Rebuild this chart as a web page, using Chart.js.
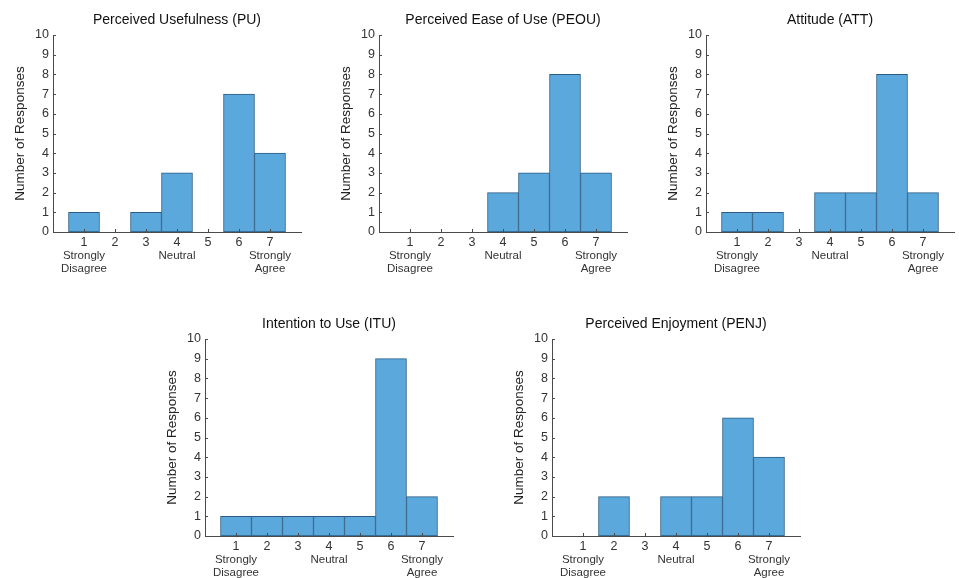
<!DOCTYPE html>
<html>
<head>
<meta charset="utf-8">
<script src="https://cdn.jsdelivr.net/npm/chart.js@4.4.1/dist/chart.umd.min.js"></script>
<style>
  html, body { margin: 0; padding: 0; background: #fff; }
  #page { position: relative; width: 959px; height: 578px; overflow: hidden; background: #fff; }
  .panel { position: absolute; width: 323px; height: 282px; }
</style>
</head>
<body>
<div id="page">
  <div class="panel" style="left:-7px; top:0px;"><canvas id="pu" width="323" height="282"></canvas></div>
  <div class="panel" style="left:319px; top:0px;"><canvas id="peou" width="323" height="282"></canvas></div>
  <div class="panel" style="left:646px; top:0px;"><canvas id="att" width="323" height="282"></canvas></div>
  <div class="panel" style="left:145px; top:304px;"><canvas id="itu" width="323" height="282"></canvas></div>
  <div class="panel" style="left:492px; top:304px;"><canvas id="penj" width="323" height="282"></canvas></div>
</div>
<script>
// Likert scores and the counts per construct
const scores = [1, 2, 3, 4, 5, 6, 7];
const puCounts = [1, 0, 1, 3, 0, 7, 4];
const peouCounts = [0, 0, 0, 2, 3, 8, 3];
const attCounts = [1, 1, 0, 2, 2, 8, 2];
const ituCounts = [1, 1, 1, 1, 1, 9, 2];
const penjCounts = [0, 2, 0, 2, 2, 6, 4];

// Anchor labels under the score axis
const anchorScores = [1, 4, 7];
const anchorTexts = [['Strongly', 'Disagree'], 'Neutral', ['Strongly', 'Agree']];

// Count axis ticks
const yTicks = [0, 1, 2, 3, 4, 5, 6, 7, 8, 9, 10];

const FONT = "'Liberation Sans', Arial, sans-serif";
const BAR_FILL = '#5aa8dc';
const BAR_EDGE = '#2b5d84';
const AXIS = '#4a4a4a';

// Small inward tick marks, like the original plot
const inwardTicks = {
  id: 'inwardTicks',
  afterDraw: (chart) => {
    const { ctx, chartArea, scales } = chart;
    ctx.save();
    ctx.strokeStyle = AXIS;
    ctx.lineWidth = 1;
    ctx.beginPath();
    yTicks.forEach((v) => {
      const py = Math.round(scales.y.getPixelForValue(v)) + 0.5;
      ctx.moveTo(chartArea.left, py);
      ctx.lineTo(chartArea.left + 3, py);
    });
    scores.forEach((v) => {
      const px = Math.round(scales.x.getPixelForValue(v)) + 0.5;
      ctx.moveTo(px, chartArea.bottom);
      ctx.lineTo(px, chartArea.bottom - 3);
    });
    ctx.stroke();
    ctx.restore();
  }
};

// Build one histogram panel
const makePanel = (id, title, counts) => {
  const ctx = document.getElementById(id).getContext('2d');
  const points = scores.map((s, i) => ({ x: s, y: counts[i] }));

  return new Chart(ctx, {
    type: 'bar',
    data: {
      datasets: [{
        data: points,
        backgroundColor: (c) => (c.raw && c.raw.y > 0 ? BAR_FILL : 'rgba(0,0,0,0)'),
        borderColor: BAR_EDGE,
        borderWidth: (c) => (c.raw && c.raw.y > 0 ? 1 : 0),
        borderSkipped: false,
        barPercentage: 1,
        categoryPercentage: 1
      }]
    },
    plugins: [inwardTicks],
    options: {
      responsive: false,
      animation: false,
      layout: { padding: { left: 0, right: 15, top: 0, bottom: 0 } },
      plugins: {
        legend: { display: false },
        tooltip: { enabled: false },
        title: {
          display: true,
          text: title,
          fullSize: false,
          color: '#111',
          font: { family: FONT, size: 14, weight: 'normal' },
          padding: { top: 12, bottom: 6.2 }
        }
      },
      scales: {
        x: {
          type: 'linear',
          min: 0,
          max: 8,
          offset: false,
          grid: { display: false, drawTicks: false, offset: false },
          border: { color: AXIS, width: 1 },
          ticks: {
            stepSize: 1,
            autoSkip: false,
            maxRotation: 0,
            padding: 3,
            color: '#333',
            font: { family: FONT, size: 12.5 },
            callback: (v) => (scores.includes(v) ? String(v) : '')
          },
          afterFit: (s) => { s.height = 16; }
        },
        x2: {
          type: 'linear',
          position: 'bottom',
          min: 0,
          max: 8,
          offset: false,
          grid: { display: false, drawTicks: false },
          border: { display: false },
          ticks: {
            stepSize: 1,
            autoSkip: false,
            maxRotation: 0,
            padding: 1,
            color: '#333',
            font: { family: FONT, size: 11.5, lineHeight: 1.15 },
            callback: (v) => {
              const idx = anchorScores.indexOf(v);
              return idx >= 0 ? anchorTexts[idx] : '';
            }
          },
          afterFit: (s) => { s.height = 34; }
        },
        y: {
          min: yTicks[0],
          max: yTicks[yTicks.length - 1],
          grid: { display: false, drawTicks: false },
          border: { color: AXIS, width: 1 },
          ticks: {
            stepSize: 1,
            padding: 4,
            color: '#333',
            font: { family: FONT, size: 12.5 }
          },
          title: {
            display: true,
            text: 'Number of Responses',
            color: '#222',
            font: { family: FONT, size: 13.5 },
            padding: { top: 19, bottom: 0 }
          },
          afterFit: (s) => { s.width = 60; }
        }
      }
    }
  });
};

makePanel('pu', 'Perceived Usefulness (PU)', puCounts);
makePanel('peou', 'Perceived Ease of Use (PEOU)', peouCounts);
makePanel('att', 'Attitude (ATT)', attCounts);
makePanel('itu', 'Intention to Use (ITU)', ituCounts);
makePanel('penj', 'Perceived Enjoyment (PENJ)', penjCounts);
</script>
</body>
</html>
